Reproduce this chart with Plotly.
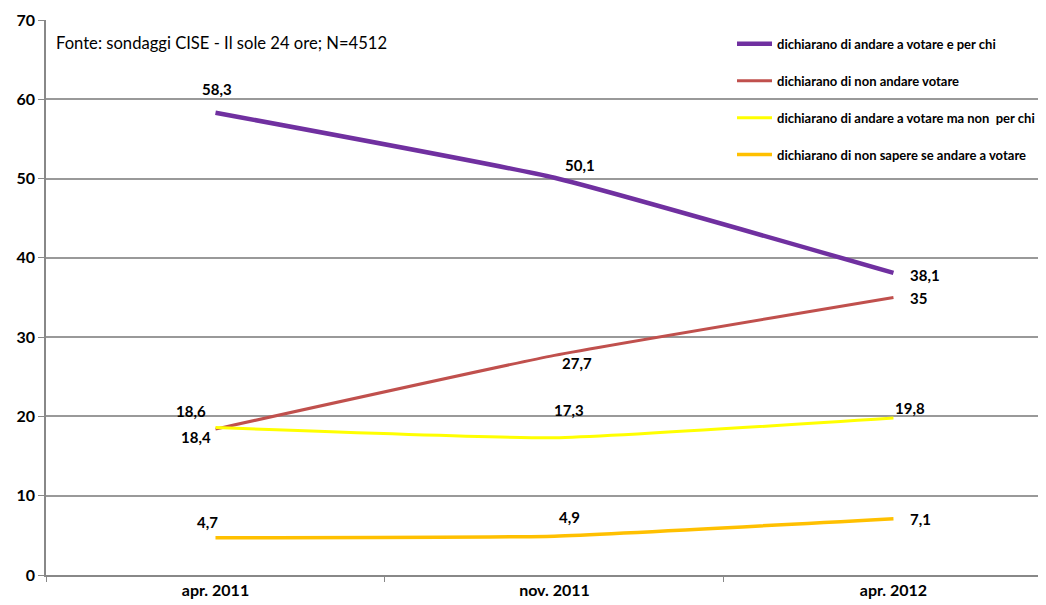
import plotly.graph_objects as go

categories = ["apr. 2011", "nov. 2011", "apr. 2012"]
series_names = [
    "dichiarano di andare a votare e per chi",
    "dichiarano di non andare votare",
    "dichiarano di andare a votare ma non  per chi",
    "dichiarano di non sapere se andare a votare",
]
vote_and_who = [58.3, 50.1, 38.1]
not_vote = [18.4, 27.7, 35.0]
vote_not_who = [18.6, 17.3, 19.8]
dont_know = [4.7, 4.9, 7.1]
y_ticks = [0, 10, 20, 30, 40, 50, 60, 70]
source_note = "Fonte: sondaggi CISE - Il sole 24 ore; N=4512"

series_values = [vote_and_who, not_vote, vote_not_who, dont_know]
colors = ["#7030A0", "#C0504D", "#FFFF00", "#FFC000"]
widths = [4.5, 3, 3, 3.5]
FONT = "Lato"
# label pixel offsets (xshift, yshift, xanchor) per point
label_offsets = [
    [(2, 24, "center"), (26, 13, "center"), (15, -2, "left")],
    [(-19, -8, "center"), (23, -8, "center"), (15, 0, "left")],
    [(-24, 17, "center"), (15, 28, "center"), (0, 10, "left")],
    [(-8, 16, "center"), (15, 19, "center"), (15, 0, "left")],
]

def fmt(v):
    s = ("%g" % v)
    return s.replace(".", ",")

fig = go.Figure()
for name, vals, c, w in zip(series_names, series_values, colors, widths):
    fig.add_trace(go.Scatter(
        x=categories, y=vals, name=name, mode="lines",
        line=dict(color=c, width=w, shape="spline", smoothing=0.4),
        legendgroup=name,
    ))

annotations = []
for vals, offs in zip(series_values, label_offsets):
    for cat, v, (dx, dy, anc) in zip(categories, vals, offs):
        annotations.append(dict(
            x=cat, y=v, xref="x", yref="y", text=fmt(v), showarrow=False,
            xshift=dx, yshift=dy, xanchor=anc, yanchor="middle",
            font=dict(family=FONT, size=15, color="black", weight="bold"),
        ))
annotations.append(dict(
    x=0.008, y=0.958, xref="paper", yref="paper", text=source_note,
    showarrow=False, xanchor="left", yanchor="middle",
    font=dict(family=FONT, size=16.6, color="black"),
))

fig.update_layout(
    width=1038, height=597,
    margin=dict(l=38, r=0, t=12, b=30),
    paper_bgcolor="white", plot_bgcolor="white",
    annotations=annotations,
    showlegend=True,
    legend=dict(
        x=0.686, y=0.984, xanchor="left", yanchor="top",
        bgcolor="rgba(0,0,0,0)", tracegroupgap=17,
        font=dict(family=FONT, size=13, color="black", weight="bold"),
        itemwidth=35,
    ),
    xaxis=dict(
        type="category", range=[-0.5, 2.45], showgrid=False, automargin=False,
        tickson="boundaries", ticks="outside", ticklen=5, tickcolor="#888888",
        showline=True, linecolor="#888888", linewidth=1.5,
        tickfont=dict(family=FONT, size=16, color="black", weight="bold"),
    ),
    yaxis=dict(
        range=[0, 70], tickvals=y_ticks, showgrid=True, gridcolor="#999999", gridwidth=1.5,
        ticks="outside", ticklen=6, tickcolor="#888888", automargin=False,
        showline=True, linecolor="#888888", linewidth=1.5, zeroline=False,
        tickfont=dict(family=FONT, size=16, color="black", weight="bold"),
    ),
)

fig.write_html("out.html")
